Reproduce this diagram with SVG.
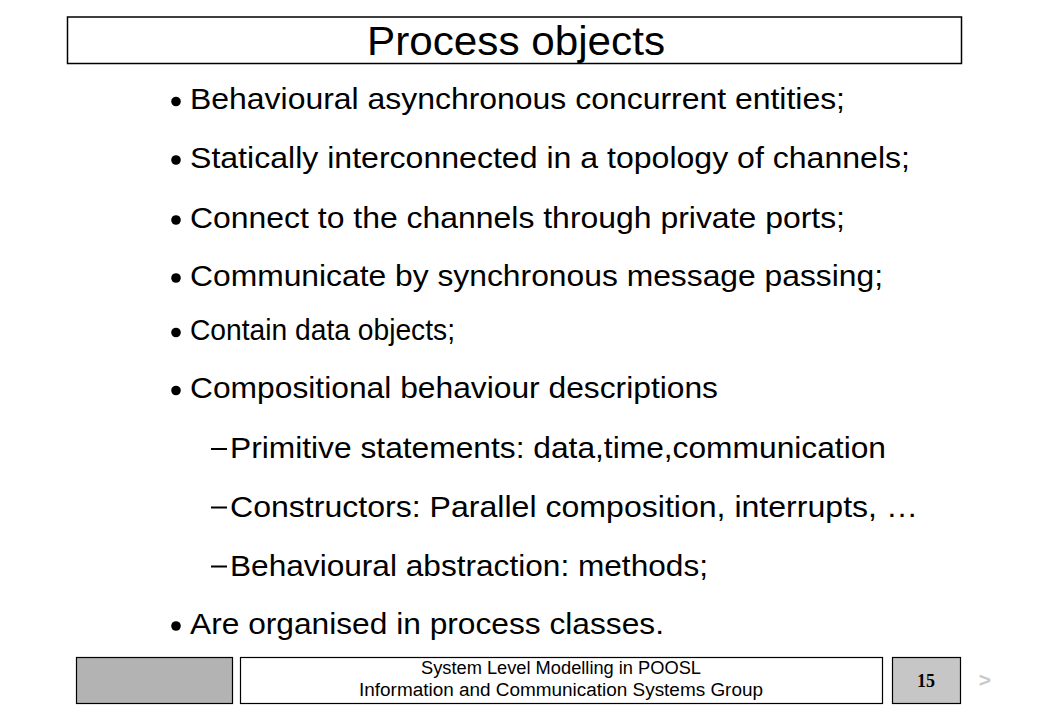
<svg xmlns="http://www.w3.org/2000/svg" width="1039" height="720" viewBox="0 0 1039 720">
<style>
.t{font-family:"Liberation Sans",Arial,sans-serif;font-size:29px;fill:#000}
.b{fill:#000}
.d{fill:#000}
.f{font-family:"Liberation Sans",Arial,sans-serif;font-size:18px;fill:#000}
</style>
<rect width="1039" height="720" fill="#fff"/>
<g id="title">
<rect x="67.5" y="17" width="894" height="46.5" fill="#fff" stroke="#000" stroke-width="1.5"/>
<text x="367" y="55" font-family="Liberation Sans,Arial,sans-serif" font-size="40" textLength="298" lengthAdjust="spacingAndGlyphs">Process objects</text>
</g>
<g id="bullets">
<circle class="b" cx="176" cy="101.5" r="4.8"/>
<text class="t" x="190" y="109" textLength="655" lengthAdjust="spacingAndGlyphs">Behavioural asynchronous concurrent entities;</text>
<circle class="b" cx="176" cy="160" r="4.8"/>
<text class="t" x="190" y="167.5" textLength="720" lengthAdjust="spacingAndGlyphs">Statically interconnected in a topology of channels;</text>
<circle class="b" cx="176" cy="220" r="4.8"/>
<text class="t" x="190" y="227.5" textLength="655" lengthAdjust="spacingAndGlyphs">Connect to the channels through private ports;</text>
<circle class="b" cx="176" cy="278" r="4.8"/>
<text class="t" x="190" y="285.5" textLength="693" lengthAdjust="spacingAndGlyphs">Communicate by synchronous message passing;</text>
<circle class="b" cx="176" cy="332.5" r="4.8"/>
<text class="t" x="190" y="340" textLength="265" lengthAdjust="spacingAndGlyphs">Contain data objects;</text>
<circle class="b" cx="176" cy="390.5" r="4.8"/>
<text class="t" x="190" y="398" textLength="528" lengthAdjust="spacingAndGlyphs">Compositional behaviour descriptions</text>
<rect class="d" x="211" y="448" width="16" height="2"/>
<text class="t" x="230" y="458" textLength="656" lengthAdjust="spacingAndGlyphs">Primitive statements: data,time,communication</text>
<rect class="d" x="211" y="506.5" width="16" height="2"/>
<text class="t" x="230" y="516.5" textLength="688" lengthAdjust="spacingAndGlyphs">Constructors: Parallel composition, interrupts, …</text>
<rect class="d" x="211" y="565.5" width="16" height="2"/>
<text class="t" x="230" y="575.5" textLength="478" lengthAdjust="spacingAndGlyphs">Behavioural abstraction: methods;</text>
<circle class="b" cx="176" cy="626" r="4.8"/>
<text class="t" x="190" y="633.5" textLength="474" lengthAdjust="spacingAndGlyphs">Are organised in process classes.</text>
</g>
<g id="footer">
<rect x="76.5" y="657.5" width="156" height="46" fill="#b3b3b3" stroke="#000" stroke-width="1.2"/>
<rect x="240.5" y="657.5" width="642" height="46" fill="#fff" stroke="#000" stroke-width="1.2"/>
<text class="f" x="561" y="674" text-anchor="middle" textLength="280" lengthAdjust="spacingAndGlyphs">System Level Modelling in POOSL</text>
<text class="f" x="561" y="696" text-anchor="middle" textLength="404" lengthAdjust="spacingAndGlyphs">Information and Communication Systems Group</text>
<rect x="892.5" y="657.5" width="68" height="46" fill="#c6c6c6" stroke="#000" stroke-width="1.2"/>
<text x="926" y="687" text-anchor="middle" font-family="Liberation Serif,serif" font-weight="bold" font-size="18">15</text>
<text x="985" y="687" text-anchor="middle" font-family="Liberation Sans,Arial,sans-serif" font-weight="bold" font-size="21" fill="#c8c8c8">&gt;</text>
</g>
</svg>
